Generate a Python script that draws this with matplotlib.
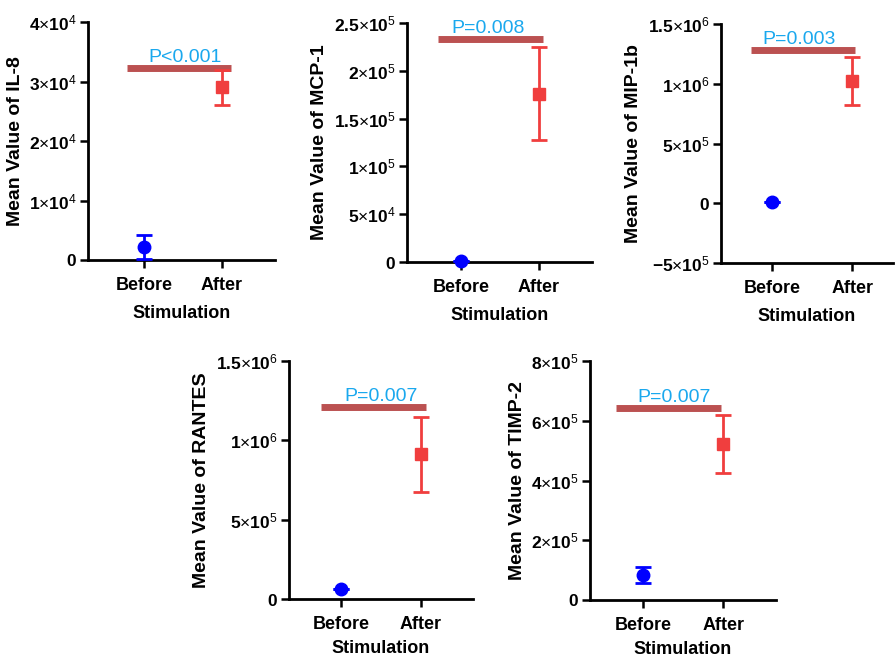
import matplotlib
matplotlib.use("Agg")
import matplotlib.pyplot as plt
from matplotlib.ticker import FixedLocator

plt.rcParams['font.family'] = ['Liberation Sans', 'DejaVu Sans']
plt.rcParams['mathtext.fontset'] = 'custom'
plt.rcParams['mathtext.rm'] = 'Liberation Sans'
plt.rcParams['mathtext.bf'] = 'Liberation Sans:bold'
plt.rcParams['mathtext.it'] = 'Liberation Sans:italic'

# ---- data ----
categories = ["Before", "After"]
analytes = ["IL-8", "MCP-1", "MIP-1b", "RANTES", "TIMP-2"]
means = {
    "IL-8":   [2200, 29000],
    "MCP-1":  [1000, 176000],
    "MIP-1b": [8000, 1020000],
    "RANTES": [65000, 912000],
    "TIMP-2": [84000, 522000],
}
errors = {
    "IL-8":   [2000, 2900],
    "MCP-1":  [0, 48500],
    "MIP-1b": [0, 200000],
    "RANTES": [0, 236000],
    "TIMP-2": [27000, 97000],
}
p_texts = {"IL-8": "P<0.001", "MCP-1": "P=0.008", "MIP-1b": "P=0.003",
           "RANTES": "P=0.007", "TIMP-2": "P=0.007"}
sig_heights = {"IL-8": 32300, "MCP-1": 233000, "MIP-1b": 1280000,
               "RANTES": 1210000, "TIMP-2": 642000}
yticks = {
    "IL-8":   [0, 1e4, 2e4, 3e4, 4e4],
    "MCP-1":  [0, 5e4, 1e5, 1.5e5, 2e5, 2.5e5],
    "MIP-1b": [-5e5, 0, 5e5, 1e6, 1.5e6],
    "RANTES": [0, 5e5, 1e6, 1.5e6],
    "TIMP-2": [0, 2e5, 4e5, 6e5, 8e5],
}
ytick_labels = {
    "IL-8":   ["0", "1×10^4", "2×10^4", "3×10^4", "4×10^4"],
    "MCP-1":  ["0", "5×10^4", "1×10^5", "1.5×10^5", "2×10^5", "2.5×10^5"],
    "MIP-1b": ["-5×10^5", "0", "5×10^5", "1×10^6", "1.5×10^6"],
    "RANTES": ["0", "5×10^5", "1×10^6", "1.5×10^6"],
    "TIMP-2": ["0", "2×10^5", "4×10^5", "6×10^5", "8×10^5"],
}

# ---- layout (pixels: left, right, top, bottom) ----
W, H = 896, 658
boxes = {
    "IL-8":   (88, 275, 22, 260),
    "MCP-1":  (407, 592, 23, 262),
    "MIP-1b": (721, 893, 24, 263),
    "RANTES": (289, 473, 361, 599),
    "TIMP-2": (590, 776, 361, 600),
}
xlims = {
    "IL-8": (-0.72, 1.68), "MCP-1": (-0.69, 1.68), "MIP-1b": (-0.64, 1.51),
    "RANTES": (-0.65, 1.65), "TIMP-2": (-0.66, 1.66),
}
sig_x = {
    "IL-8": (-0.22, 1.12), "MCP-1": (-0.29, 1.05), "MIP-1b": (-0.26, 1.04),
    "RANTES": (-0.25, 1.06), "TIMP-2": (-0.34, 0.98),
}
ptext_x = {"IL-8": 0.53, "MCP-1": 0.35, "MIP-1b": 0.34, "RANTES": 0.5, "TIMP-2": 0.39}
xlabel_pad = {"IL-8": 8, "MCP-1": 8, "MIP-1b": 8, "RANTES": 5, "TIMP-2": 5}

def fmt(s):
    if "×" in s:
        mant, exp = s.split("×10^")
        return r"$\mathbf{" + mant + r"}{\times}\mathbf{10}^{" + exp + r"}$"
    return r"$\mathbf{" + s + r"}$"

fig = plt.figure(figsize=(W / 100, H / 100), dpi=100)
blue = "#0000FF"
red = "#F03E3E"
line_col = "#B84848"
txt_col = "#1AA8EE"

for name in analytes:
    l, r, t, b = boxes[name]
    ax = fig.add_axes([l / W, 1 - b / H, (r - l) / W, (b - t) / H])
    ymin, ymax = yticks[name][0], yticks[name][-1]
    ax.set_ylim(ymin, ymax)
    ax.set_xlim(*xlims[name])
    m = means[name]
    e = errors[name]
    ax.errorbar([0], [m[0]], yerr=[e[0]], fmt='o', color=blue, ms=9,
                capsize=6, elinewidth=2, capthick=2, clip_on=False, zorder=3)
    ax.errorbar([1], [m[1]], yerr=[e[1]], fmt='s', color=red, ms=9,
                capsize=6, elinewidth=2, capthick=2, clip_on=False, zorder=3)
    x0, x1 = sig_x[name]
    h = sig_heights[name]
    ax.plot([x0, x1], [h, h], color=line_col, lw=5, solid_capstyle='butt',
            alpha=0.95, zorder=2, clip_on=False)
    ax.text(ptext_x[name], h + (ymax - ymin) * 0.008, p_texts[name],
            color=txt_col, fontsize=14, ha='center', va='bottom')
    ax.set_xticks([0, 1])
    ax.set_xticklabels(categories, fontsize=13, fontweight='bold')
    ax.yaxis.set_major_locator(FixedLocator(yticks[name]))
    ax.set_yticklabels([fmt(s) for s in ytick_labels[name]], fontsize=12.5)
    for sp in ["top", "right"]:
        ax.spines[sp].set_visible(False)
    for sp in ["left", "bottom"]:
        ax.spines[sp].set_linewidth(2)
    ax.tick_params(axis='both', width=1.8, length=6, direction='out', pad=2)
    ax.tick_params(axis='x', pad=6)
    ax.set_xlabel("Stimulation", fontsize=13, fontweight='bold', labelpad=xlabel_pad[name])
    ax.set_ylabel("Mean Value of " + name, fontsize=14, fontweight='bold', labelpad=4)

fig.savefig("out.png", dpi=100)
